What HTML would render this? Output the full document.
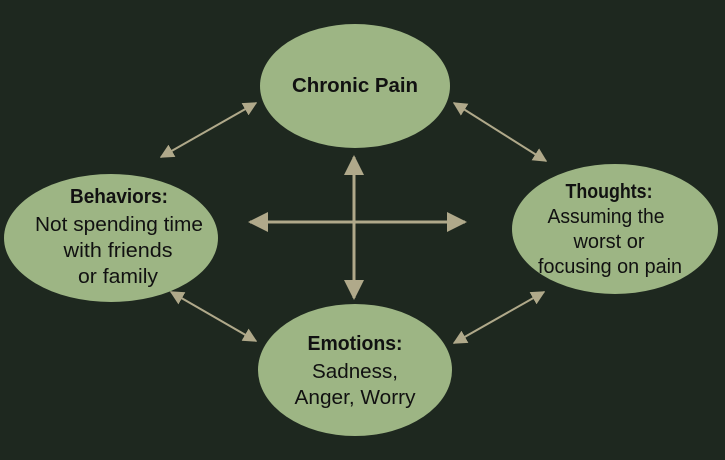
<!DOCTYPE html>
<html><head><style>html,body{margin:0;padding:0;background:#1e281f;}svg{display:block}</style></head>
<body>
<svg width="725" height="460" viewBox="0 0 725 460" xmlns="http://www.w3.org/2000/svg">
<rect width="725" height="460" fill="#1e281f"/>
<defs>
<marker id="a" viewBox="0 0 10 10" refX="9" refY="5" markerWidth="14" markerHeight="14" markerUnits="userSpaceOnUse" orient="auto-start-reverse"><path d="M0,0 L10,5 L0,10 z" fill="#b0a98a"/></marker>
<marker id="b" viewBox="0 0 10 10" refX="9" refY="5" markerWidth="20" markerHeight="20" markerUnits="userSpaceOnUse" orient="auto-start-reverse"><path d="M0,0 L10,5 L0,10 z" fill="#b0a98a"/></marker>
</defs>
<g fill="#9db584">
<ellipse cx="355" cy="86" rx="95" ry="62"/>
<ellipse cx="111" cy="238" rx="107" ry="64"/>
<ellipse cx="615" cy="229" rx="103" ry="65"/>
<ellipse cx="355" cy="370" rx="97" ry="66"/>
</g>
<g stroke="#b0a98a" stroke-width="3" fill="none">
<line x1="250" y1="222" x2="465" y2="222" marker-start="url(#b)" marker-end="url(#b)"/>
<line x1="354" y1="157" x2="354" y2="298" marker-start="url(#b)" marker-end="url(#b)"/>
<line x1="161" y1="157" x2="256" y2="103" stroke-width="2" marker-start="url(#a)" marker-end="url(#a)"/>
<line x1="454" y1="103" x2="546" y2="161" stroke-width="2" marker-start="url(#a)" marker-end="url(#a)"/>
<line x1="171" y1="292" x2="256" y2="341" stroke-width="2" marker-start="url(#a)" marker-end="url(#a)"/>
<line x1="454" y1="343" x2="544" y2="292" stroke-width="2" marker-start="url(#a)" marker-end="url(#a)"/>
</g>
<g font-family="Liberation Sans, sans-serif" fill="#111" text-anchor="middle" font-size="20">
<text x="355" y="92" font-weight="bold" textLength="126" lengthAdjust="spacingAndGlyphs">Chronic Pain</text>
<text x="119" y="203" font-weight="bold" textLength="98" lengthAdjust="spacingAndGlyphs">Behaviors:</text>
<text x="119" y="231" textLength="168" lengthAdjust="spacingAndGlyphs">Not spending time</text>
<text x="118" y="257" textLength="109" lengthAdjust="spacingAndGlyphs">with friends</text>
<text x="118" y="283" textLength="80" lengthAdjust="spacingAndGlyphs">or family</text>
<text x="609" y="198" font-weight="bold" textLength="87" lengthAdjust="spacingAndGlyphs">Thoughts:</text>
<text x="606" y="223" textLength="117" lengthAdjust="spacingAndGlyphs">Assuming the</text>
<text x="609" y="248" textLength="71" lengthAdjust="spacingAndGlyphs">worst or</text>
<text x="610" y="273" textLength="144" lengthAdjust="spacingAndGlyphs">focusing on pain</text>
<text x="355" y="350" font-weight="bold" textLength="95" lengthAdjust="spacingAndGlyphs">Emotions:</text>
<text x="355" y="378" textLength="86" lengthAdjust="spacingAndGlyphs">Sadness,</text>
<text x="355" y="404" textLength="121" lengthAdjust="spacingAndGlyphs">Anger, Worry</text>
</g>
</svg>
</body></html>
